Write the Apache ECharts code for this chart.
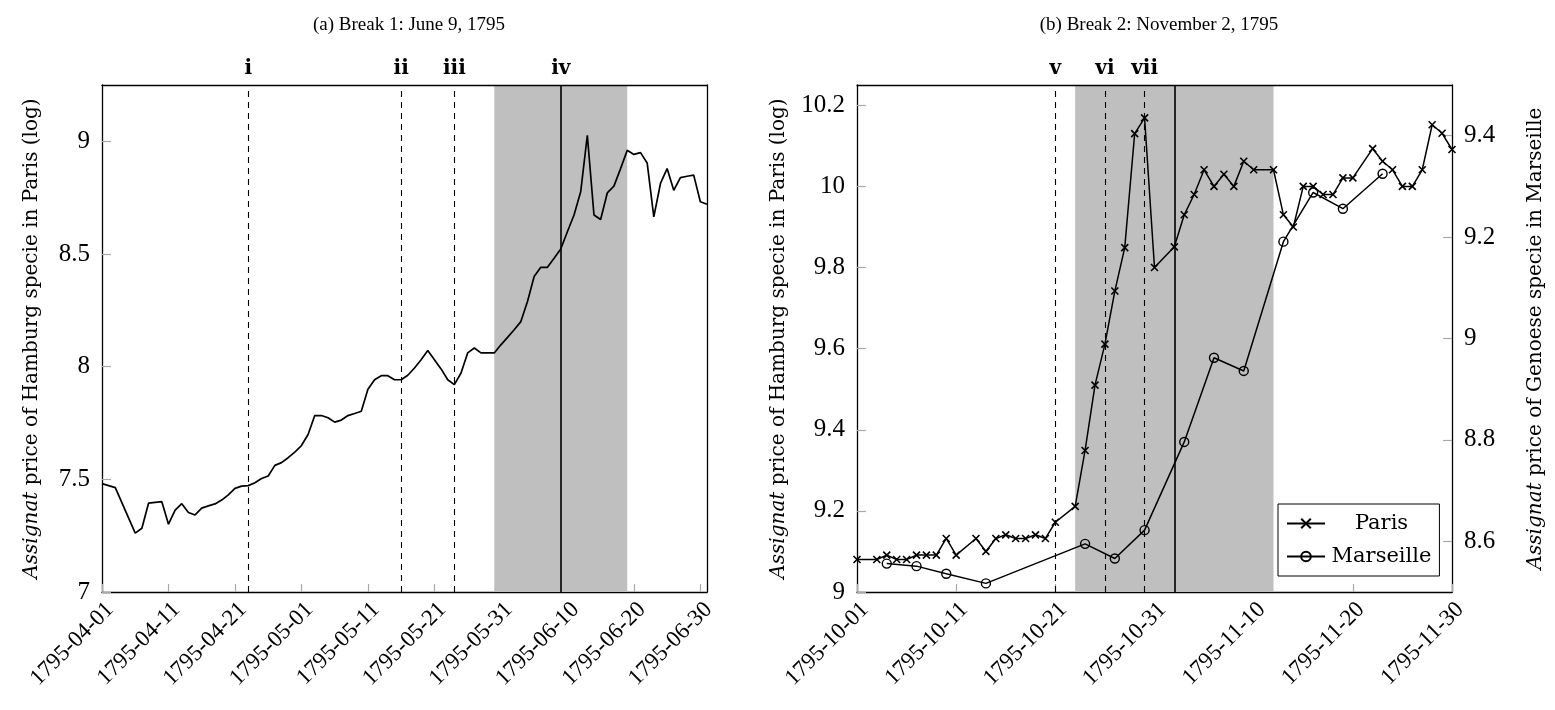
<!DOCTYPE html>
<html><head><meta charset="utf-8">
<script src="https://cdn.jsdelivr.net/npm/echarts@6/dist/echarts.min.js"></script>
<style>html,body{margin:0;padding:0;background:#fff}#c{width:1555px;height:710px}</style>
</head><body><div id="c"></div>
<script>
// ---------------- data: panel (a) ----------------
const startA = '1795-04-01';
const datesA = ['1795-04-01','1795-04-03','1795-04-06','1795-04-07','1795-04-08','1795-04-10','1795-04-11','1795-04-12','1795-04-13','1795-04-14',
'1795-04-15','1795-04-16','1795-04-17','1795-04-18','1795-04-19','1795-04-20','1795-04-21','1795-04-22','1795-04-23','1795-04-24',
'1795-04-25','1795-04-26','1795-04-27','1795-04-28','1795-04-29','1795-04-30','1795-05-01','1795-05-02','1795-05-03','1795-05-04',
'1795-05-05','1795-05-06','1795-05-07','1795-05-08','1795-05-09','1795-05-10','1795-05-11','1795-05-12','1795-05-13','1795-05-14',
'1795-05-15','1795-05-16','1795-05-17','1795-05-18','1795-05-19','1795-05-20','1795-05-21','1795-05-22','1795-05-23','1795-05-24',
'1795-05-25','1795-05-26','1795-05-27','1795-05-28','1795-05-29','1795-05-30','1795-05-31','1795-06-01','1795-06-02','1795-06-03',
'1795-06-04','1795-06-05','1795-06-06','1795-06-07','1795-06-08','1795-06-09','1795-06-10','1795-06-11','1795-06-12','1795-06-13',
'1795-06-14','1795-06-15','1795-06-16','1795-06-17','1795-06-18','1795-06-19','1795-06-20','1795-06-21','1795-06-22','1795-06-23',
'1795-06-24','1795-06-25','1795-06-26','1795-06-27','1795-06-28','1795-06-29','1795-06-30','1795-07-01'];
const parisA = [7.481,7.463,7.261,7.283,7.394,7.401,7.301,7.363,7.392,7.353,
7.342,7.372,7.382,7.391,7.408,7.431,7.460,7.470,7.472,7.485,
7.504,7.515,7.562,7.574,7.596,7.621,7.650,7.699,7.783,7.783,
7.773,7.754,7.763,7.783,7.792,7.802,7.900,7.942,7.960,7.960,
7.942,7.942,7.962,7.994,8.031,8.072,8.031,7.990,7.942,7.920,
7.972,8.061,8.083,8.061,8.061,8.061,8.097,8.130,8.164,8.200,
8.289,8.400,8.441,8.441,8.481,8.522,8.599,8.673,8.776,9.027,
8.673,8.653,8.771,8.801,8.879,8.960,8.942,8.950,8.904,8.665,
8.813,8.879,8.783,8.839,8.845,8.850,8.732,8.721];
const eventDatesA = ['1795-04-23','1795-05-16','1795-05-24'];
const eventLabelsA = ['i','ii','iii'];
const breakDateA = '1795-06-09';
const breakLabelA = 'iv';
const windowA = ['1795-05-30','1795-06-19'];
const xTicksA = ['1795-04-01','1795-04-11','1795-04-21','1795-05-01','1795-05-11','1795-05-21','1795-05-31','1795-06-10','1795-06-20','1795-06-30'];
const yTicksA = [7, 7.5, 8, 8.5, 9];
const yRangeA = [7, 9.25];

// ---------------- data: panel (b) ----------------
const startB = '1795-10-01';
const datesB = ['1795-10-01','1795-10-03','1795-10-04','1795-10-05','1795-10-06','1795-10-07','1795-10-08','1795-10-09','1795-10-10','1795-10-11',
'1795-10-13','1795-10-14','1795-10-15','1795-10-16','1795-10-17','1795-10-18','1795-10-19','1795-10-20','1795-10-21',
'1795-10-23','1795-10-24','1795-10-25','1795-10-26','1795-10-27','1795-10-28','1795-10-29','1795-10-30','1795-10-31',
'1795-11-02','1795-11-03','1795-11-04','1795-11-05','1795-11-06','1795-11-07','1795-11-08','1795-11-09','1795-11-10',
'1795-11-12','1795-11-13','1795-11-14','1795-11-15','1795-11-16','1795-11-17','1795-11-18','1795-11-19','1795-11-20',
'1795-11-22','1795-11-23','1795-11-24','1795-11-25','1795-11-26','1795-11-27','1795-11-28','1795-11-29','1795-11-30'];
const parisB = [9.080,9.080,9.091,9.080,9.080,9.091,9.091,9.091,9.132,9.091,
9.132,9.100,9.132,9.141,9.132,9.132,9.141,9.132,9.172,
9.211,9.349,9.510,9.611,9.742,9.849,10.130,10.169,9.800,
9.851,9.930,9.980,10.041,10.000,10.030,10.000,10.062,10.041,
10.041,9.930,9.900,10.000,10.000,9.980,9.980,10.021,10.021,
10.093,10.062,10.041,10.000,10.000,10.041,10.152,10.131,10.091];
const marseilleDatesB = ['1795-10-04','1795-10-07','1795-10-10','1795-10-14','1795-10-24','1795-10-27','1795-10-30',
'1795-11-03','1795-11-06','1795-11-09','1795-11-13','1795-11-16','1795-11-19','1795-11-23'];
const marseilleB = [8.556,8.551,8.536,8.517,8.595,8.566,8.622,8.796,8.962,8.936,9.191,9.288,9.256,9.325];
const eventDatesB = ['1795-10-21','1795-10-26','1795-10-30'];
const eventLabelsB = ['v','vi','vii'];
const breakDateB = '1795-11-02';
const windowB = ['1795-10-23','1795-11-12'];
const xTicksB = ['1795-10-01','1795-10-11','1795-10-21','1795-10-31','1795-11-10','1795-11-20','1795-11-30'];
const yTicksB = [9, 9.2, 9.4, 9.6, 9.8, 10, 10.2];
const yRangeB = [9, 10.25];
const y2TicksB = [8.6, 8.8, 9, 9.2, 9.4];
const y2RangeB = [8.5, 9.5];

const titleA = '(a) Break 1: June 9, 1795';
const titleB = '(b) Break 2: November 2, 1795';
const yNameParis = '{i|Assignat} price of Hamburg specie in Paris (log)';
const yNameMarseille = '{i|Assignat} price of Genoese specie in Marseille';

// ---------------- helpers ----------------
const TXT = 'DejaVu Serif';
const NUM = 'Liberation Serif';
const toDay = (s, s0) => Math.round((Date.parse(s) - Date.parse(s0)) / 864e5);

function xAxisMain(gridIndex, ticks, s0, maxDay) {
  const tv = ticks.map(s => toDay(s, s0));
  return {
    type: 'value', gridIndex, position: 'bottom', min: 0, max: maxDay,
    axisLine: {show: true, onZero: false, lineStyle: {color: '#000', width: 1.3}},
    axisTick: {show: true, inside: true, length: 8, customValues: tv, lineStyle: {color: '#a8a8a8', width: 1.2}},
    axisLabel: {show: true, customValues: tv, rotate: 45, margin: 6, verticalAlign: 'top',
      fontFamily: NUM, fontSize: 23, color: '#000',
      formatter: v => { const k = tv.indexOf(v); return k >= 0 ? ticks[k] : ''; }},
    splitLine: {show: false}
  };
}
function frameAxisX(gridIndex) {
  return {type: 'value', gridIndex, position: 'top', min: 0, max: 1, z: 6,
    axisLine: {show: true, onZero: false, lineStyle: {color: '#000', width: 1.3}},
    axisTick: {show: false}, axisLabel: {show: false}, splitLine: {show: false}};
}
function yAxisMain(gridIndex, pos, range, ticks, name, gap) {
  return {
    type: 'value', gridIndex, position: pos, min: range[0], max: range[1],
    axisLine: {show: true, onZero: false, lineStyle: {color: '#000', width: 1.3}},
    axisTick: {show: true, inside: true, length: 9, customValues: ticks, lineStyle: {color: '#a8a8a8', width: 1.2}},
    axisLabel: {show: true, customValues: ticks, margin: 12, fontFamily: NUM, fontSize: 25, color: '#000'},
    splitLine: {show: false},
    name, nameLocation: 'middle', nameRotate: 90, nameGap: gap,
    nameTextStyle: {fontFamily: TXT, fontSize: 20, color: '#000',
      rich: {i: {fontFamily: TXT, fontSize: 20, fontStyle: 'italic', color: '#000'}}}
  };
}
function frameAxisY(gridIndex) {
  return {type: 'value', gridIndex, position: 'right', min: 0, max: 1,
    axisLine: {show: true, onZero: false, lineStyle: {color: '#000', width: 1.3}},
    axisTick: {show: false}, axisLabel: {show: false}, splitLine: {show: false}};
}
const dashStyle = {type: [6, 5], color: '#000', width: 1.1};
const solidStyle = {type: 'solid', color: '#000', width: 1.6};
const markLabel = {show: true, position: 'end', distance: 6, fontFamily: TXT, fontWeight: 'bold', fontSize: 20, color: '#000'};

function markers(s0, evDates, evLabels, brDate, brLabel, win) {
  const data = evDates.map((d, k) => ({xAxis: toDay(d, s0), lineStyle: dashStyle, label: {formatter: evLabels[k]}}));
  data.push({xAxis: toDay(brDate, s0), lineStyle: solidStyle,
    label: brLabel ? {formatter: brLabel} : {show: false}});
  return {
    markLine: {symbol: ['none', 'none'], silent: true, animation: false, label: markLabel, data},
    markArea: {silent: true, itemStyle: {color: '#bfbfbf', opacity: 1},
      data: [[{xAxis: toDay(win[0], s0)}, {xAxis: toDay(win[1], s0)}]]}
  };
}

const pairs = (dates, vals, s0) => dates.map((d, k) => [toDay(d, s0), vals[k]]);
const maxA = toDay(datesA[datesA.length - 1], startA);
const maxB = toDay(datesB[datesB.length - 1], startB);

const crossPath = 'path://M0,0L10,10M0,10L10,0';
const titleStyle = {fontFamily: NUM, fontSize: 19, fontWeight: 'normal', color: '#000'};

const option = {
  animation: false,
  backgroundColor: '#fff',
  title: [
    {text: titleA, left: 404, top: 11, textAlign: 'center', textStyle: titleStyle},
    {text: titleB, left: 1154, top: 11, textAlign: 'center', textStyle: titleStyle}
  ],
  grid: [
    {left: 102, top: 85, width: 605, height: 507, containLabel: false},
    {left: 857, top: 85, width: 595, height: 507, containLabel: false}
  ],
  xAxis: [
    xAxisMain(0, xTicksA, startA, maxA), frameAxisX(0),
    xAxisMain(1, xTicksB, startB, maxB), frameAxisX(1)
  ],
  yAxis: [
    yAxisMain(0, 'left', yRangeA, yTicksA, yNameParis, 60),
    frameAxisY(0),
    yAxisMain(1, 'left', yRangeB, yTicksB, yNameParis, 68),
    yAxisMain(1, 'right', y2RangeB, y2TicksB, yNameMarseille, 74)
  ],
  legend: {
    data: ['Paris', 'Marseille'], orient: 'vertical', left: 1278, top: 504,
    backgroundColor: '#fff', borderColor: '#000', borderWidth: 1, borderRadius: 0,
    padding: [9, 8, 9, 8], itemGap: 12, itemWidth: 38, itemHeight: 12,
    formatter: '{c|{name}}',
    textStyle: {fontFamily: TXT, fontSize: 21, color: '#000',
      rich: {c: {fontFamily: TXT, fontSize: 21, color: '#000', width: 103, align: 'center'}}}
  },
  series: [
    Object.assign({
      type: 'line', name: 'Paris A', xAxisIndex: 0, yAxisIndex: 0,
      data: pairs(datesA, parisA, startA), symbol: 'none',
      lineStyle: {color: '#000', width: 1.7}, itemStyle: {color: '#000'}
    }, markers(startA, eventDatesA, eventLabelsA, breakDateA, breakLabelA, windowA)),
    Object.assign({
      type: 'line', name: 'Paris', xAxisIndex: 2, yAxisIndex: 2,
      data: pairs(datesB, parisB, startB), symbol: crossPath, symbolSize: 7,
      lineStyle: {color: '#000', width: 1.5}, itemStyle: {color: '#000', borderColor: '#000', borderWidth: 1.6}
    }, markers(startB, eventDatesB, eventLabelsB, breakDateB, null, windowB)),
    {
      type: 'line', name: 'Marseille', xAxisIndex: 2, yAxisIndex: 3,
      data: pairs(marseilleDatesB, marseilleB, startB), symbol: 'circle', symbolSize: 9,
      lineStyle: {color: '#000', width: 1.5}, itemStyle: {color: 'rgba(0,0,0,0)', borderColor: '#000', borderWidth: 1.4}
    }
  ]
};
const chart = echarts.init(document.getElementById('c'));
chart.setOption(option);
</script></body></html>
